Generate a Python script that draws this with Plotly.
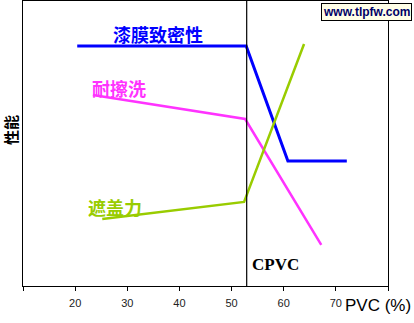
import plotly.graph_objects as go

# Data (x = PVC %, y = relative performance 0-100)
film_x = [20.4, 52.8, 60.8, 72.1]
film_y = [84.2, 84.2, 43.9, 43.9]
scrub_x = [23.4, 52.6, 67.2]
scrub_y = [67.0, 58.6, 14.4]
hide_x = [25.2, 52.4, 63.9]
hide_y = [23.5, 29.5, 84.9]
cpvc = 52.9
tick_vals = [10, 20, 30, 40, 50, 60, 70, 80]
tick_text = ["", "20", "30", "40", "50", "60", "70", ""]

cjk = "Noto Sans CJK SC"
fig = go.Figure()
fig.add_trace(go.Scatter(x=film_x, y=film_y, mode="lines", line=dict(color="#0000FF", width=3)))
fig.add_trace(go.Scatter(x=scrub_x, y=scrub_y, mode="lines", line=dict(color="#FF33FF", width=2.5)))
fig.add_trace(go.Scatter(x=hide_x, y=hide_y, mode="lines", line=dict(color="#99CC00", width=2.5)))
fig.add_trace(go.Scatter(x=[cpvc, cpvc], y=[0, 100], mode="lines", line=dict(color="black", width=1.2)))

anns = [
    dict(x=35.9, y=88.4, text="<b>漆膜致密性</b>", font=dict(family=cjk, size=18, color="#0000FF")),
    dict(x=28.4, y=69.5, text="<b>耐擦洗</b>", font=dict(family=cjk, size=18, color="#FF33FF")),
    dict(x=27.6, y=27.7, text="<b>遮盖力</b>", font=dict(family=cjk, size=18, color="#99CC00")),
    dict(x=53.5, y=7.4, xanchor="left", text="<b>CPVC</b>",
         font=dict(family="Liberation Serif", size=17, color="black")),
]
for a in anns:
    a.update(xref="x", yref="y", showarrow=False)
    fig.add_annotation(**a)

fig.add_annotation(xref="paper", yref="paper", x=-0.036, y=0.547, xanchor="center", yanchor="middle",
                   text="<b>性能</b>", textangle=-90,
                   showarrow=False, font=dict(family=cjk, size=15, color="black"))
fig.add_annotation(xref="paper", yref="paper", x=0.973, y=-0.067, xanchor="center", yanchor="middle",
                   text="PVC (%)",
                   showarrow=False, font=dict(family="Liberation Sans", size=17, color="black"))
fig.add_annotation(xref="paper", yref="paper", x=0.816, y=0.993, xanchor="left", yanchor="top",
                   text="<b>www.tlpfw.com</b>", showarrow=False, bgcolor="#FFFFE8",
                   bordercolor="black", borderwidth=1, borderpad=1,
                   font=dict(family="Liberation Sans", size=12, color="#000066"))

fig.update_layout(
    width=414, height=323, margin=dict(l=23, r=26, t=1, b=37),
    plot_bgcolor="white", paper_bgcolor="white", showlegend=False,
    xaxis=dict(range=[10, 80], tickvals=tick_vals, ticktext=tick_text, ticks="outside", ticklen=4,
               ticklabelstandoff=3,
               tickcolor="black", showgrid=False, zeroline=False, showline=True, linecolor="black",
               linewidth=1, mirror=True, tickfont=dict(family="Liberation Sans", size=11, color="#222")),
    yaxis=dict(range=[0, 100], showticklabels=False, ticks="", showgrid=False, zeroline=False,
               showline=True, linecolor="black", linewidth=1, mirror=True),
)
fig.write_html("out.html")
